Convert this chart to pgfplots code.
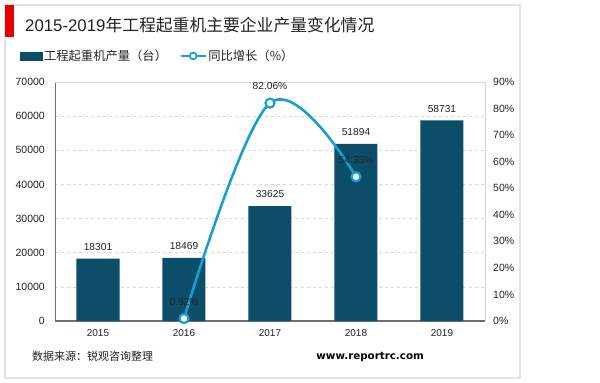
\documentclass[border=0pt]{standalone}
\usepackage{fontspec}
\setmainfont{Liberation Sans}
\newfontfamily\cjk{Noto Sans CJK SC}
\newfontfamily\dvs{DejaVu Sans}
\usepackage{pgfplots}
\pgfplotsset{compat=1.18}
\definecolor{barc}{RGB}{12,78,106}
\definecolor{linec}{RGB}{24,160,206}
\definecolor{gridc}{RGB}{215,215,215}
\definecolor{axisc}{RGB}{110,110,110}
\definecolor{txt}{RGB}{35,35,35}
\pgfplotsset{/pgf/number format/1000 sep={}, /pgf/number format/assume math mode=true}
\begin{document}
\begin{tikzpicture}[x=1pt,y=1pt]
\fill[white] (0pt,0pt) rectangle (600pt,383pt);
\draw[gray!22, line width=1.2pt] (5pt,5pt) rectangle (520pt,378pt);
\fill[red!90!black] (5pt,346pt) rectangle (14pt,378pt);
\node[anchor=west, inner sep=0pt, text=txt] at (25pt,358pt) {\fontsize{16.8}{20}\selectfont 2015-2019{\cjk 年工程起重机主要企业产量变化情况}};
\node[anchor=west, inner sep=0pt, text=txt] at (32pt,26.5pt) {\cjk\fontsize{11}{13}\selectfont 数据来源：锐观咨询整理};
\node[anchor=east, inner sep=0pt, text=black] at (424pt,26.5pt) {\dvs\bfseries\fontsize{10.3}{12}\selectfont www.reportrc.com};

\begin{axis}[
  at={(55pt,62pt)}, anchor=south west,
  scale only axis, width=430pt, height=239pt,
  xmin=-0.5, xmax=4.5, ymin=0, ymax=70000,
  xtick={0,...,4}, xticklabels={2015,2016,2017,2018,2019},
  ytick={0,10000,...,70000},
  scaled y ticks=false,
  major tick length=0pt,
  axis x line*=bottom, axis y line*=left,
  x axis line style={draw=axisc, line width=1.6pt, -},
  y axis line style={draw=axisc, line width=1pt, -},
  ymajorgrids, grid style={gridc, dash pattern=on 3pt off 3pt, line width=0.6pt},
  yticklabel style={font=\fontsize{10.5}{12}\selectfont, text=txt, inner sep=0pt, xshift=-10pt},
  xticklabel style={font=\fontsize{10}{12}\selectfont, text=txt, inner sep=0pt, yshift=-8pt},
  after end axis/.code={\draw[gridc, line width=0.8pt] (rel axis cs:0,1) -- (rel axis cs:1,1) -- (rel axis cs:1,0);},
]
\addplot[ybar, bar width=43pt, fill=barc, draw=none,
  nodes near coords, point meta=y,
  every node near coord/.append style={font=\fontsize{10.2}{12}\selectfont, text=txt, inner sep=0pt, anchor=south, yshift=8pt}]
  coordinates {(0,18301) (1,18469) (2,33625) (3,51894) (4,58731)};
\end{axis}

\begin{axis}[
  at={(55pt,62pt)}, anchor=south west,
  scale only axis, width=430pt, height=239pt,
  xmin=-0.5, xmax=4.5, ymin=0, ymax=90,
  ytick={0,10,...,90},
  yticklabel={\pgfmathprintnumber{\tick}\%},
  axis y line*=right, axis x line=none,
  y axis line style={draw=none},
  major tick length=0pt,
  clip=false,
  yticklabel style={font=\fontsize{10.5}{12}\selectfont, text=txt, inner sep=0pt, xshift=8pt},
  legend style={at={(axis description cs:-0.0814,1.109)}, anchor=west, draw=none, fill=none,
    font=\cjk\fontsize{12.3}{14}\selectfont, text=txt, inner sep=0pt,
    nodes={inner sep=1.5pt},
    /tikz/every even column/.append style={column sep=11pt}},
  legend columns=2, legend cell align=left,
]
\addlegendimage{legend image code/.code={\fill[barc] (0pt,-4pt) rectangle (22pt,4pt);}}
\addlegendentry{工程起重机产量（台）}
\addplot[linec, line width=2.6pt, smooth, tension=0.6,
  mark=*, mark size=4.5pt, mark options={fill=white, draw=linec, line width=2.2pt},
  nodes near coords={\pgfmathprintnumber[fixed, fixed zerofill, precision=2]{\pgfplotspointmeta}\%},
  point meta=y,
  every node near coord/.append style={font=\fontsize{10.2}{12}\selectfont, text=txt, inner sep=0pt, anchor=south, yshift=12pt},
  legend image code/.code={\draw[linec, line width=2.2pt] (0pt,0pt) -- (25pt,0pt); \draw[linec, line width=1.8pt, fill=white] (12.5pt,0pt) circle (3.4pt);}]
  coordinates {(1,0.92) (2,82.06) (3,54.33)};
\addlegendentry{同比增长（\%）}
\end{axis}
\end{tikzpicture}
\end{document}
